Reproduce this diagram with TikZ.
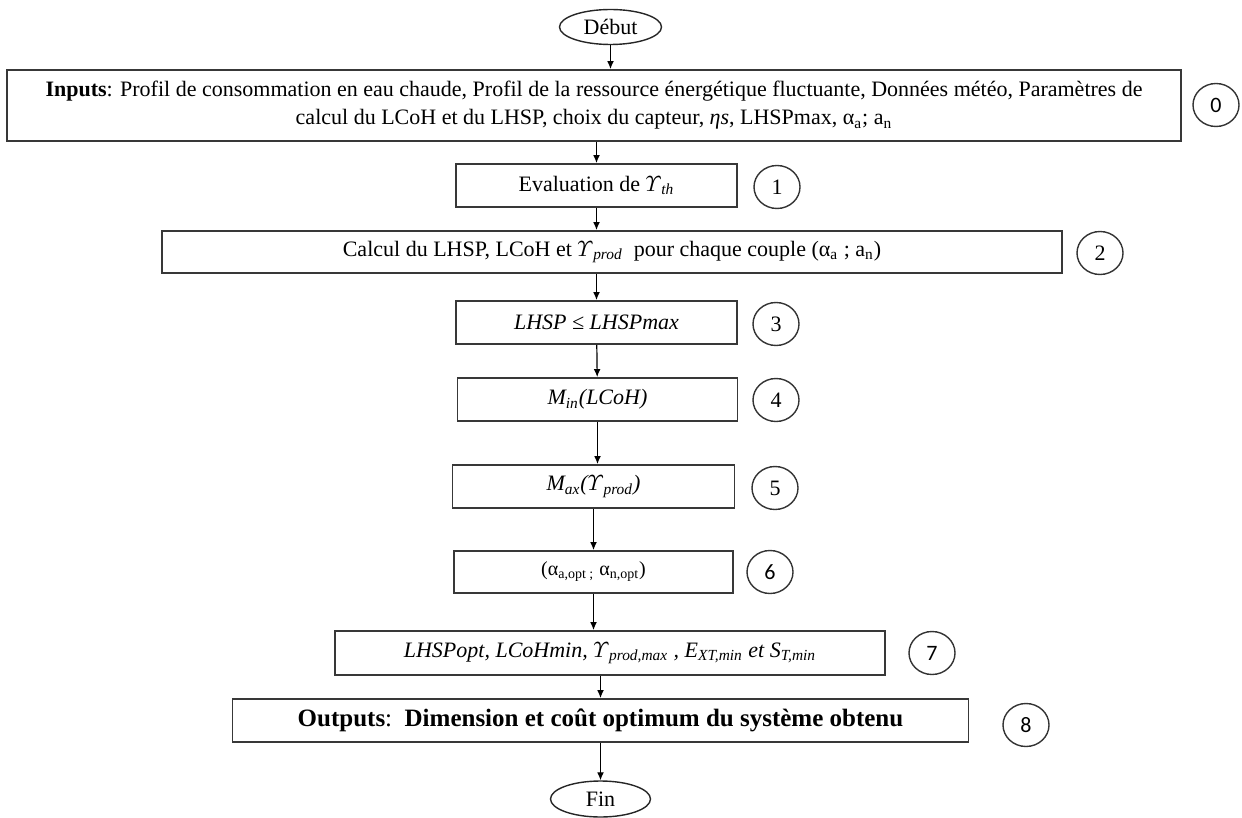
\documentclass[tikz,border=0pt]{standalone}
\usepackage{fontspec}
\setmainfont{Liberation Serif}
\newfontfamily\numfont{Carlito}
\usetikzlibrary{arrows.meta,shapes.geometric}
\newcommand*\Ups{\ensuremath{\mathnormal{\Upsilon}}}

\begin{document}
\begin{tikzpicture}[x=0.5pt,y=-0.5pt,>={Latex[length=4pt,width=3.4pt]},line width=0.6pt,
  font={\fontsize{11}{14}\selectfont},
  stepbox/.style={draw=black!78,line width=0.9pt,rectangle,inner sep=0pt,minimum height=21.5pt,align=center},
  tagcirc/.style={draw=black!80,line width=0.7pt,ellipse,inner sep=0pt,minimum width=23pt,minimum height=21.5pt},
  endcap/.style={draw=black!85,line width=0.7pt,ellipse,inner sep=0pt,minimum width=51pt,minimum height=17.5pt}]
\useasboundingbox (0,0) rectangle (1242,818);

% start and end
\node[endcap] (deb) at (610.5,27) {Début};
\node[endcap,minimum width=50pt,minimum height=18pt] (fin) at (600.5,799) {Fin};

% steps
\node[stepbox,minimum width=587pt,minimum height=35.5pt] (s0) at (594,105.5)
  {\textbf{Inputs}: Profil de consommation en eau chaude, Profil de la ressource énergétique fluctuante, Données météo, Paramètres de\\
   calcul du LCoH et du LHSP, choix du capteur, \textit{ηs}, LHSPmax, α\textsubscript{a}; a\textsubscript{n}};
\node[stepbox,minimum width=140.5pt] (s1) at (596.5,185.5) {Evaluation de \Ups\textsubscript{\textit{th}}};
\node[stepbox,minimum width=450pt,minimum height=21pt] (s2) at (612,252)
  {Calcul du LHSP, LCoH et \Ups\textsubscript{\textit{prod}}\ \ pour chaque couple (α\textsubscript{a} ; a\textsubscript{n})};
\node[stepbox,minimum width=140.5pt] (s3) at (596.5,322.5) {\textit{LHSP ≤ LHSPmax}};
\node[stepbox,minimum width=140pt] (s4) at (597.5,399.5) {\textit{M\textsubscript{in}(LCoH)}};
\node[stepbox,minimum width=141pt] (s5) at (593.5,486.5) {\textit{M\textsubscript{ax}(\Ups\textsubscript{prod})}};
\node[stepbox,minimum width=139.5pt,minimum height=21pt,font={\fontsize{10}{12}\selectfont}] (s6) at (593.5,572)
  {(α\textsubscript{a,opt ;} α\textsubscript{n,opt})};
\node[stepbox,minimum width=275pt,minimum height=22pt] (s7) at (610,653)
  {\textit{LHSPopt, LCoHmin, \Ups\textsubscript{prod,max} , E\textsubscript{XT,min} et S\textsubscript{T,min}}};
\node[stepbox,minimum width=368pt,font={\fontsize{12.5}{15}\selectfont}] (s8) at (600.5,720.5)
  {\textbf{Outputs}:\ \ \textbf{Dimension et coût optimum du système obtenu}};

% step numbers
\node[tagcirc] (c0) at (1216,105) {\numfont 0};
\node[tagcirc] (c1) at (777,187) {1};
\node[tagcirc] (c2) at (1100,253) {2};
\node[tagcirc] (c3) at (776,324) {3};
\node[tagcirc] (c4) at (776,400) {4};
\node[tagcirc] (c5) at (775,488) {5};
\node[tagcirc] (c6) at (770,572) {\numfont 6};
\node[tagcirc] (c7) at (932,653) {\numfont 7};
\node[tagcirc] (c8) at (1026,725) {\numfont 8};

% flow
\draw[->] (deb) -- (deb |- s0.north);
\draw[->] (s1 |- s0.south) -- (s1);
\draw[->] (s1) -- (s1 |- s2.north);
\draw[->] (s3 |- s2.south) -- (s3);
\draw[->] (s3) -- (s4);
\draw[->] (s4) -- (s4 |- s5.north);
\draw[->] (s5) -- (s6);
\draw[->] (s6) -- (s6 |- s7.north);
\draw[->] (s8 |- s7.south) -- (s8);
\draw[->] (fin |- s8.south) -- (fin);
\end{tikzpicture}
\end{document}
